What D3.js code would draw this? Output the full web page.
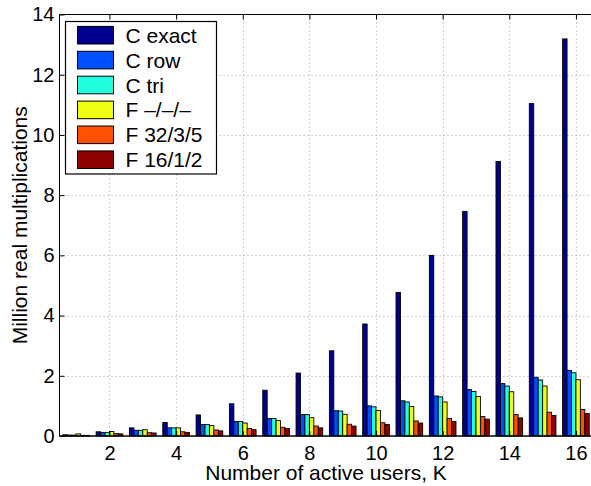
<!DOCTYPE html>
<html><head><meta charset="utf-8">
<script src="https://cdn.jsdelivr.net/npm/d3@7"></script>
<style>body{margin:0;background:#fff}svg{display:block}text{font-family:"Liberation Sans",Arial,sans-serif;fill:#000}</style>
</head><body>
<script>
const users = [1,2,3,4,5,6,7,8,9,10,11,12,13,14,15,16];
const seriesNames = ["C exact","C row","C tri","F \u2013/\u2013/\u2013","F 32/3/5","F 16/1/2"];
const cExact = [0.04,0.14,0.27,0.45,0.70,1.07,1.52,2.09,2.83,3.72,4.77,6.00,7.46,9.12,11.04,13.19];
const cRow   = [0.03,0.12,0.19,0.27,0.38,0.48,0.58,0.71,0.84,1.00,1.17,1.33,1.54,1.74,1.95,2.18];
const cTri   = [0.03,0.12,0.19,0.27,0.38,0.48,0.58,0.71,0.83,0.97,1.13,1.30,1.48,1.66,1.86,2.10];
const fFull  = [0.07,0.15,0.21,0.27,0.35,0.43,0.51,0.61,0.72,0.85,0.98,1.13,1.31,1.47,1.66,1.87];
const f32    = [0.02,0.08,0.11,0.14,0.20,0.25,0.29,0.33,0.39,0.44,0.50,0.58,0.65,0.71,0.79,0.88];
const f16    = [0.02,0.07,0.10,0.12,0.17,0.21,0.25,0.27,0.33,0.38,0.43,0.48,0.56,0.60,0.68,0.75];
const colors = ["#00008f","#0050ff","#20ffdf","#efff10","#ff5000","#8f0000"];
const xTicks = [2,4,6,8,10,12,14,16];
const yTicks = [0,2,4,6,8,10,12,14];

const series = [cExact,cRow,cTri,fFull,f32,f16];
const W = 591, H = 486;
const svg = d3.select("body").append("svg").attr("width",W).attr("height",H);
const L = 59.5, T = 14.5, B = 436, R = 592.6;
const x = d3.scaleLinear().domain([0.5,16.5]).range([L,R]);
const y = d3.scaleLinear().domain([0,14]).range([B,T]);

// grid
const grid = svg.append("g").attr("stroke","#a8a8a8").attr("stroke-dasharray","1,3").attr("stroke-width",1);
xTicks.forEach(t=>grid.append("line").attr("x1",Math.round(x(t))+0.5).attr("x2",Math.round(x(t))+0.5).attr("y1",T).attr("y2",B));
yTicks.filter(t=>t>0&&t<14).forEach(t=>grid.append("line").attr("x1",L).attr("x2",R).attr("y1",Math.round(y(t))+0.5).attr("y2",Math.round(y(t))+0.5));

// bars
const gw = 0.8, bw = gw/series.length;
series.forEach((vals,i)=>{
  svg.append("g").selectAll("rect").data(users).join("rect")
    .attr("x",(k)=>x(k-gw/2+i*bw))
    .attr("width",x(bw)-x(0))
    .attr("y",(k,j)=>y(vals[j]))
    .attr("height",(k,j)=>y(0)-y(vals[j]))
    .attr("fill",colors[i]).attr("stroke","#000").attr("stroke-width",0.9);
});

// axes frame
const ax = svg.append("g").attr("stroke","#000").attr("stroke-width",1).attr("fill","none");
ax.append("line").attr("x1",L).attr("x2",R).attr("y1",B).attr("y2",B).attr("stroke-width",1.5);
ax.append("line").attr("x1",L).attr("x2",R).attr("y1",T).attr("y2",T);
ax.append("line").attr("x1",L).attr("x2",L).attr("y1",T).attr("y2",B);

// ticks via d3 axes
const xAxis = svg.append("g").attr("transform",`translate(0,${B})`)
  .call(d3.axisBottom(x).tickValues(xTicks).tickSize(-5).tickPadding(10).tickFormat(d3.format("d")));
xAxis.select(".domain").remove();
xAxis.selectAll("text").attr("font-size",20).attr("font-family","Liberation Sans, Arial, sans-serif");
const xTop = svg.append("g").attr("transform",`translate(0,${T})`)
  .call(d3.axisTop(x).tickValues(xTicks).tickSize(-5).tickFormat(""));
xTop.select(".domain").remove();
const yAxis = svg.append("g").attr("transform",`translate(${L},0)`)
  .call(d3.axisLeft(y).tickValues(yTicks).tickSize(-5).tickPadding(5).tickFormat(d3.format("d")));
yAxis.select(".domain").remove();
yAxis.selectAll("text").attr("font-size",20).attr("font-family","Liberation Sans, Arial, sans-serif");

// axis labels
svg.append("text").attr("x",(L+R)/2).attr("y",480).attr("text-anchor","middle").attr("font-size",21)
  .text("Number of active users, K");
svg.append("text").attr("transform",`translate(26.5,${(T+B)/2}) rotate(-90)`).attr("text-anchor","middle").attr("font-size",21)
  .text("Million real multiplications");

// legend
const lg = svg.append("g");
lg.append("rect").attr("x",65.5).attr("y",21.5).attr("width",151).attr("height",152.5)
  .attr("fill","#fff").attr("stroke","#000").attr("stroke-width",1.2);
seriesNames.forEach((n,i)=>{
  const cy = 35.2 + i*24.9;
  lg.append("rect").attr("x",77.5).attr("y",cy-8.8).attr("width",36).attr("height",17.6)
    .attr("fill",colors[i]).attr("stroke","#000").attr("stroke-width",1);
  lg.append("text").attr("x",125.5).attr("y",cy+7.5).attr("font-size",21).text(n);
});
</script>
</body></html>
